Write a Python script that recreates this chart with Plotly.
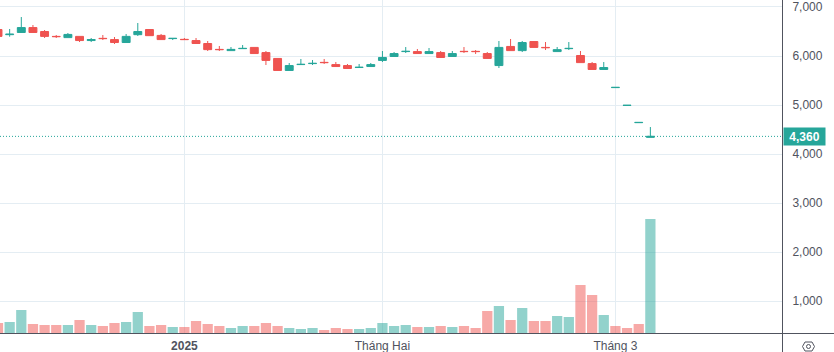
import plotly.graph_objects as go

open_ = [6540,6435,6480,6580,6500,6400,6375,6400,6315,6360,6335,6275,6435,6540,6420,6355,6340,6315,6255,6135,
         6110,6150,6175,6070,5950,5705,5825,5845,5870,5825,5805,5765,5785,5910,5990,6090,6090,6050,6070,5990,
         6095,6095,6050,5805,6195,6110,6295,6175,6090,6150,6010,5845,5725,5355,4990,4640,4340]
high = [6540,6551,6795,6632,6530,6428,6469,6400,6367,6428,6387,6449,6673,6540,6449,6360,6367,6367,6306,6204,
        6183,6224,6175,6102,5950,5857,5939,5918,5939,5877,5837,5837,5857,6102,6081,6183,6143,6163,6102,6102,
        6183,6122,6081,6306,6347,6306,6295,6285,6183,6285,6102,5877,5877,5360,4995,4645,4551]
low = [6400,6394,6480,6480,6367,6367,6375,6285,6285,6326,6245,6275,6408,6415,6335,6326,6335,6255,6102,6102,
       6110,6150,6050,5816,5705,5705,5825,5816,5837,5785,5745,5765,5785,5877,5990,6061,6050,6050,5970,5990,
       6061,6041,5950,5755,6110,6081,6175,6122,6090,6122,5865,5725,5725,5355,4990,4640,4340]
close = [6400,6445,6580,6480,6400,6395,6440,6315,6335,6355,6275,6400,6500,6415,6335,6360,6335,6255,6130,6130,
         6135,6155,6050,5910,5705,5805,5830,5850,5865,5785,5745,5770,5825,5970,6050,6095,6050,6090,5970,6050,
         6090,6090,5950,6175,6110,6275,6175,6170,6130,6155,5865,5725,5765,5360,4995,4645,4360]
volume = [200,220,460,180,160,160,160,260,160,140,200,220,420,140,160,120,120,240,180,140,
          100,140,140,200,140,100,80,100,60,100,80,80,100,200,140,160,120,120,140,120,
          140,100,440,540,260,500,240,240,340,320,960,760,360,140,100,180,2280]
volume_up = [0,1,1,0,0,0,1,0,1,0,0,1,1,0,0,1,0,0,0,0,
             1,1,0,0,0,1,1,1,0,0,0,1,1,1,1,1,0,1,0,1,
             0,0,0,1,0,1,0,0,1,1,0,0,1,0,0,0,1]
tick_positions = [16, 33, 53]
tick_labels = ["<b>2025</b>", "Tháng Hai", "Tháng 3"]
price_ticks = [1000, 2000, 3000, 4000, 5000, 6000, 7000]
last_price = 4360

UP, DOWN = "#26a69a", "#ef5350"
GRID, AXIS, TEXT = "#e4edf3", "#50535e", "#50535e"
FONT = "Liberation Sans"
W, H = 834, 352
PW, PH = 782, 333
x = list(range(len(open_)))

fig = go.Figure()
fig.add_trace(go.Bar(
    x=x, y=volume, yaxis="y2", width=0.88,
    marker=dict(color=[UP if u else DOWN for u in volume_up], opacity=0.5, line_width=0),
))
fig.add_trace(go.Candlestick(
    x=x, open=open_, high=high, low=low, close=close, whiskerwidth=0,
    increasing=dict(line=dict(color=UP, width=1), fillcolor=UP),
    decreasing=dict(line=dict(color=DOWN, width=1), fillcolor=DOWN),
))

def px(v): return v / PW
def py(v): return 1 - v / PH

shapes = [
    dict(type="line", xref="x", yref="y", x0=0.172, x1=67.3, y0=last_price, y1=last_price,
         line=dict(color=UP, width=1, dash="1px,2px"), layer="above"),
    dict(type="line", xref="paper", yref="paper", x0=px(782.5), x1=px(782.5), y0=py(0), y1=py(352),
         line=dict(color=AXIS, width=1)),
    dict(type="line", xref="paper", yref="paper", x0=0, x1=px(834), y0=py(333.5), y1=py(333.5),
         line=dict(color=AXIS, width=1)),
    dict(type="path", xref="paper", yref="paper",
         path=" ".join([f"{'M' if i == 0 else 'L'} {px(a)} {py(b)}" for i, (a, b) in enumerate(
             [(802.5, 346.5), (805, 342), (812, 342), (814.5, 346.5), (812, 351), (805, 351)])]) + " Z",
         line=dict(color=TEXT, width=1)),
    dict(type="circle", xref="paper", yref="paper", x0=px(806.5), x1=px(810.5), y0=py(344.5), y1=py(348.5),
         line=dict(color=TEXT, width=1)),
]

fig.update_layout(
    width=W, height=H, margin=dict(l=0, r=W - PW, t=0, b=H - PH),
    paper_bgcolor="white", plot_bgcolor="white", showlegend=False,
    font=dict(family=FONT, size=12, color=TEXT),
    boxgap=0.32, boxgroupgap=0, bargap=0.12, shapes=shapes,
    xaxis=dict(range=[0.172, 67.3], tickmode="array", tickvals=tick_positions, ticktext=tick_labels,
               showgrid=True, gridcolor=GRID, gridwidth=1, zeroline=False, showline=False,
               ticks="", ticklabelstandoff=4, automargin=False, rangeslider=dict(visible=False)),
    yaxis=dict(range=[349.2, 7142.4], side="right", tickmode="array", tickvals=price_ticks,
               tickformat=",", showgrid=True, gridcolor=GRID, gridwidth=1, zeroline=False,
               showline=False, ticks="outside", ticklen=7, tickcolor="rgba(0,0,0,0)", automargin=False),
    yaxis2=dict(range=[0, 6660], overlaying="y", side="left", visible=False),
    annotations=[dict(
        xref="paper", yref="y", x=px(783), y=last_price, xanchor="left", yanchor="middle",
        text=f"<b>{last_price:,}</b>", showarrow=False, bgcolor=UP, borderpad=1, width=39, height=15,
        font=dict(color="white", size=12, family=FONT),
    )],
)
fig.write_html("out.html", config=dict(displayModeBar=False),
               post_script="document.body.style.margin='0';document.body.style.overflow='hidden';")
